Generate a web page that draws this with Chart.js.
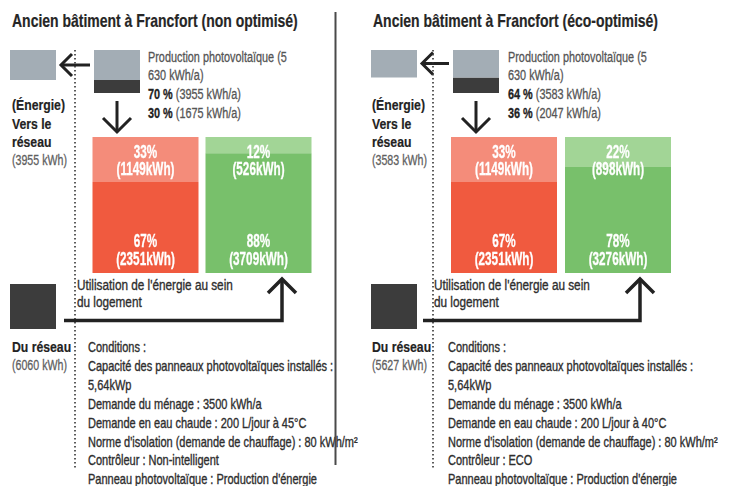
<!DOCTYPE html>
<html><head><meta charset="utf-8">
<script src="https://cdn.jsdelivr.net/npm/chart.js@4.4.1/dist/chart.umd.min.js"></script>
<style>
html,body{margin:0;padding:0;background:#fff;}
body{width:730px;height:486px;position:relative;overflow:hidden;}
svg{position:absolute;left:0;top:0;}
canvas{position:absolute;}
</style></head><body>
<svg id="g" width="730" height="486" xmlns="http://www.w3.org/2000/svg"></svg>
<script>
// ---------------- DATA ----------------
const categories = ["Consommation du ménage", "Chauffage et eau chaude"];
const titles = ["Ancien bâtiment à Francfort (non optimisé)", "Ancien bâtiment à Francfort (éco-optimisé)"];
const pvProductionKwh = [5630, 5630];
const pvExportPct = [70, 64];
const pvExportKwh = [3955, 3583];
const pvSelfPct = [30, 36];
const pvSelfKwh = [1675, 2047];
const fromGridKwh = [6060, 5627];
// non optimisé
const pvUsePctA = [33, 12];
const pvUseKwhA = [1149, 526];
const gridUsePctA = [67, 88];
const gridUseKwhA = [2351, 3709];
// éco-optimisé
const pvUsePctB = [33, 22];
const pvUseKwhB = [1149, 898];
const gridUsePctB = [67, 78];
const gridUseKwhB = [2351, 3276];
const conditionsA = ["Conditions :", "Capacité des panneaux photovoltaïques installés :", "5,64kWp", "Demande du ménage : 3500 kWh/a", "Demande en eau chaude : 200 L/jour à 45°C", "Norme d'isolation (demande de chauffage) : 80 kWh/m²", "Contrôleur : Non-intelligent", "Panneau photovoltaïque : Production d'énergie"];
const conditionsB = ["Conditions :", "Capacité des panneaux photovoltaïques installés :", "5,64kWp", "Demande du ménage : 3500 kWh/a", "Demande en eau chaude : 200 L/jour à 40°C", "Norme d'isolation (demande de chauffage) : 80 kWh/m²", "Contrôleur : ECO", "Panneau photovoltaïque : Production d'énergie"];

// ---------------- STYLE ----------------
const FAM = '"Liberation Sans Narrow", "Liberation Sans", Arial, sans-serif';
const RED = '#f05a3f', RED_L = '#f48c7a', GREEN = '#78c06b', GREEN_L = '#a2d596';
const GRAY_BOX = '#a3adb5', DARK_BOX = '#3c3c3c';

const mctx = document.createElement('canvas').getContext('2d');
function scaleFor(font, ref, w) { mctx.font = font + ' ' + FAM; return w / mctx.measureText(ref).width; }
const STY = {
  title: {w:'bold', s:17.5, c:'#262626', ref:titles[0], tw:286, k:0.2},
  prod:  {w:'normal', s:14.5, c:'#555', ref:'Production photovoltaïque (5', tw:139, k:0.3},
  side:  {w:'bold', s:15.5, c:'#222', ref:'(Énergie)', tw:53, k:0.2},
  sideG: {w:'normal', s:14.5, c:'#5f5f5f', ref:'(3955 kWh)', tw:55, k:0.3},
  use:   {w:'normal', s:14.5, c:'#2e2e2e', ref:"Utilisation de l'énergie au sein", tw:156, k:0.35},
  cond:  {w:'normal', s:14, c:'#2e2e2e', ref:"Norme d'isolation (demande de chauffage) : 80 kWh/m²", tw:270, k:0.35},
};
for (const k in STY) { const st = STY[k]; st.sx = scaleFor(st.w + ' ' + st.s + 'px', st.ref, st.tw); }
const BAR_SX = scaleFor('bold 17.5px', '(1149kWh)', 58);

const svg = document.getElementById('g');
const NS = 'http://www.w3.org/2000/svg';
function el(tag, attrs, parent) { const e = document.createElementNS(NS, tag); for (const a in attrs) e.setAttribute(a, attrs[a]); (parent||svg).appendChild(e); return e; }
function txt(x, y, parts, key) {
  const st = STY[key];
  const t = el('text', {transform:`translate(${x} ${y}) scale(${st.sx} 1)`, 'font-family':FAM, 'font-size':st.s, 'font-weight':st.w, fill:st.c, stroke:st.c, 'stroke-width':st.k});
  t.setAttribute('xml:space','preserve');
  if (typeof parts === 'string') parts = [[parts, false]];
  parts.forEach(([s, b]) => { const ts = el('tspan', b ? {'font-weight':'bold', fill:'#222', stroke:'#222'} : {}, t); ts.textContent = s; });
}
function path(d, w, extra) { el('path', Object.assign({d, stroke:'#222', 'stroke-width':w, fill:'none', 'stroke-linejoin':'miter', 'stroke-linecap':'butt'}, extra||{})); }

// ---------------- LAYOUT (per panel) ----------------
const P = [
  {title:12, side:12, prodX:148, grayC:33, pvC:117, ay:65, dot:75, downX:117, barsL:88.5, barsW:226, lineStart:64, arrowX:282, useX:77, condX:88, boxX:10},
  {title:373, side:372, prodX:508, grayC:394, pvC:476, ay:63.5, dot:433, downX:476, barsL:447, barsW:228, lineStart:423, arrowX:640, useX:434, condX:448, boxX:371}
];
const sets = [
  {pvPct:pvUsePctA, pvKwh:pvUseKwhA, gridPct:gridUsePctA, gridKwh:gridUseKwhA, cond:conditionsA},
  {pvPct:pvUsePctB, pvKwh:pvUseKwhB, gridPct:gridUsePctB, gridKwh:gridUseKwhB, cond:conditionsB}
];

const segLabels = {
  id:'segLabels',
  afterDatasetsDraw(chart, args, o) {
    const ctx = chart.ctx, y = chart.scales.y;
    const yTop = y.getPixelForValue(100), yBot = y.getPixelForValue(0);
    ctx.save();
    ctx.fillStyle = '#fff'; ctx.strokeStyle = '#fff'; ctx.lineWidth = 0.3;
    ctx.font = 'bold 17.5px ' + FAM; ctx.textAlign = 'center'; ctx.textBaseline = 'alphabetic';
    const draw = (s, x, yy) => { ctx.save(); ctx.translate(x, yy); ctx.scale(BAR_SX, 1); ctx.fillText(s, 0, 0); ctx.strokeText(s, 0, 0); ctx.restore(); };
    chart.getDatasetMeta(0).data.forEach((bar, i) => {
      draw(o.pvPct[i] + '%', bar.x, yTop + 21);
      draw('(' + o.pvKwh[i] + 'kWh)', bar.x, yTop + 38);
      draw(o.gridPct[i] + '%', bar.x, yBot - 26);
      draw('(' + o.gridKwh[i] + 'kWh)', bar.x, yBot - 8.5);
    });
    ctx.restore();
  }
};

function canvasAt(x, y, w, h) {
  const c = document.createElement('canvas'); c.width = w; c.height = h;
  c.style.left = x + 'px'; c.style.top = y + 'px'; c.style.width = w + 'px'; c.style.height = h + 'px';
  document.body.appendChild(c); return c;
}
const baseOpts = () => ({responsive:false, animation:false, events:[], devicePixelRatio:1,
  layout:{padding:0}, plugins:{legend:{display:false}, tooltip:{enabled:false}}});

P.forEach((L, k) => {
  const S = sets[k];
  // graphics
  path(`M${L.pvC-27},${L.ay} H${L.grayC+29}`, 3);
  path(`M${L.grayC+39},${L.ay-11} L${L.grayC+28},${L.ay} L${L.grayC+39},${L.ay+11}`, 3);
  path(`M${L.downX},101 V131`, 3);
  path(`M${L.downX-14},118 L${L.downX},132 L${L.downX+14},118`, 3);
  path(`M${L.dot},50 V468`, 1.6, {stroke:'#333', 'stroke-dasharray':'1.6 2.4'});
  el('rect', {x:L.boxX, y:284, width:46, height:45, fill:DARK_BOX});
  path(`M${L.lineStart},320.5 H${L.arrowX} V279`, 3.5);
  path(`M${L.arrowX-14},293 L${L.arrowX},279 L${L.arrowX+14},293`, 3.5);

  // texts
  txt(L.title, 27, titles[k], 'title');
  const pvStr = String(pvProductionKwh[k]);
  txt(L.prodX, 62, 'Production photovoltaïque (' + pvStr.slice(0, 1), 'prod');
  txt(L.prodX, 80, pvStr.slice(1) + ' kWh/a)', 'prod');
  txt(L.prodX, 99, [[pvExportPct[k] + ' %', true], [' (' + pvExportKwh[k] + ' kWh/a)', false]], 'prod');
  txt(L.prodX, 117.5, [[pvSelfPct[k] + ' %', true], [' (' + pvSelfKwh[k] + ' kWh/a)', false]], 'prod');
  txt(L.side, 110, '(Énergie)', 'side');
  txt(L.side, 128.5, 'Vers le', 'side');
  txt(L.side, 147, 'réseau', 'side');
  txt(L.side, 165, '(' + pvExportKwh[k] + ' kWh)', 'sideG');
  txt(L.useX, 290, "Utilisation de l'énergie au sein", 'use');
  txt(L.useX, 307, 'du logement', 'use');
  txt(L.side, 351.5, 'Du réseau', 'side');
  txt(L.side, 370, '(' + fromGridKwh[k] + ' kWh)', 'sideG');
  S.cond.forEach((s, i) => txt(L.condX, 352 + i * 18.9, s, 'cond'));

  // PV production / export boxes (chart)
  const spacing = L.pvC - L.grayC;
  const c1 = canvasAt(L.grayC - spacing / 2, 50, spacing * 2, 43);
  new Chart(c1, {type:'bar',
    data:{labels:['Vers le réseau', 'Production photovoltaïque'], datasets:[
      {data:[[pvSelfPct[k], 100], [pvSelfPct[k], 100]], backgroundColor:GRAY_BOX},
      {data:[null, [0, pvSelfPct[k]]], backgroundColor:DARK_BOX}
    ]},
    options:Object.assign(baseOpts(), {
      datasets:{bar:{categoryPercentage:1, barPercentage:46 / spacing, borderWidth:0, borderSkipped:false}},
      scales:{x:{display:false, stacked:true}, y:{display:false, min:0, max:100}}
    })
  });

  // main bars (chart)
  const c2 = canvasAt(L.barsL, 137, L.barsW, 136);
  new Chart(c2, {type:'bar',
    data:{labels:categories, datasets:[
      {label:'Du réseau', data:S.gridPct, backgroundColor:[RED, GREEN]},
      {label:'Photovoltaïque', data:S.pvPct, backgroundColor:[RED_L, GREEN_L]}
    ]},
    options:Object.assign(baseOpts(), {
      datasets:{bar:{categoryPercentage:1, barPercentage:106 / (L.barsW / 2), borderWidth:0}},
      scales:{x:{display:false, stacked:true}, y:{display:false, stacked:true, min:0, max:100}},
      plugins:{legend:{display:false}, tooltip:{enabled:false}, segLabels:{pvPct:S.pvPct, pvKwh:S.pvKwh, gridPct:S.gridPct, gridKwh:S.gridKwh}}
    }),
    plugins:[segLabels]
  });
});
// divider (on top of text)
path('M335.5,12 V465', 2, {stroke:'#4a4a4a'});
</script>
</body></html>
